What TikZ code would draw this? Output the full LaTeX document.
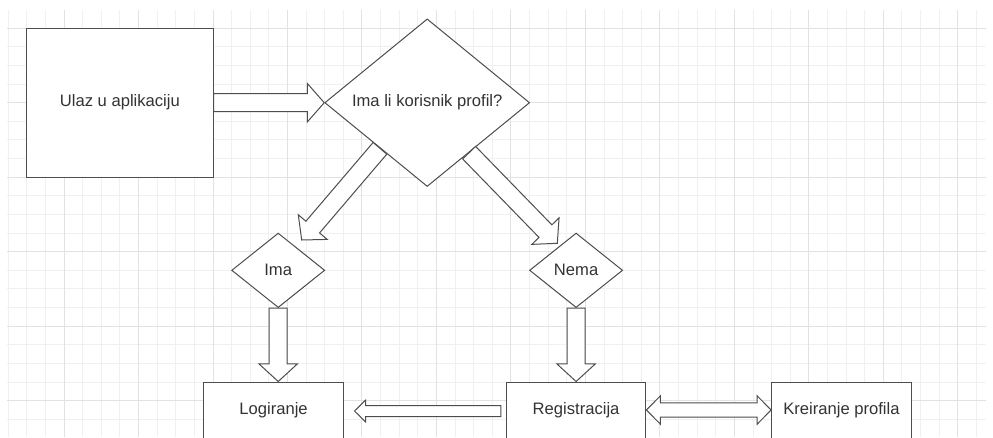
\documentclass[tikz,border=0pt]{standalone}
\usepackage{fontspec}
\setmainfont{Liberation Sans}
\usetikzlibrary{calc,shapes.geometric}
\definecolor{txt}{HTML}{333333}
\definecolor{edge}{HTML}{4D4D4D}
\definecolor{gminor}{HTML}{F0F0F0}
\definecolor{gmajor}{HTML}{E2E2E2}
% block arrow: #1 start, #2 tip, #3 half shaft, #4 half head, #5 head length
\newcommand\blockarrow[5]{%
  \coordinate (ba) at ($(#2)!#5pt!(#1)$);
  \draw[blk] ($(#1)!#3pt!90:(#2)$) -- ($(ba)!#3pt!90:(#2)$) -- ($(ba)!#4pt!90:(#2)$) -- (#2)
    -- ($(ba)!#4pt!-90:(#2)$) -- ($(ba)!#3pt!-90:(#2)$) -- ($(#1)!#3pt!-90:(#2)$) -- cycle;}
% double block arrow
\newcommand\dblarrow[5]{%
  \coordinate (da) at ($(#1)!#5pt!(#2)$);
  \coordinate (db) at ($(#2)!#5pt!(#1)$);
  \draw[blk] (#1) -- ($(da)!#4pt!90:(#2)$) -- ($(da)!#3pt!90:(#2)$) -- ($(db)!#3pt!90:(#2)$)
    -- ($(db)!#4pt!90:(#2)$) -- (#2) -- ($(db)!#4pt!-90:(#2)$) -- ($(db)!#3pt!-90:(#2)$)
    -- ($(da)!#3pt!-90:(#2)$) -- ($(da)!#4pt!-90:(#2)$) -- cycle;}
\tikzset{
  box/.style={draw=edge, fill=white, line width=1pt, rectangle, inner sep=0pt,
    font=\fontsize{16.6}{20}\selectfont, text=txt},
  diam/.style={draw=edge, fill=white, line width=1pt, diamond, inner sep=0pt, aspect=1,
    font=\fontsize{16.6}{20}\selectfont, text=txt},
  blk/.style={draw=edge, fill=white, line width=1pt, line join=miter},
  gmin/.style={draw=gminor, line width=1pt},
  gmaj/.style={draw=gmajor, line width=1pt}
}
\begin{document}
\begin{tikzpicture}[x=1pt,y=-1pt]
\useasboundingbox (0,0) rectangle (993,437);
\fill[white] (0,0) rectangle (993,437);
% grid
\foreach \k in {0,...,52} {\pgfmathsetmacro\gx{8.2+18.62*\k}\draw[gmin] (\gx,10) -- (\gx,437);}
\foreach \m in {-4,...,17} {\pgfmathsetmacro\gy{102.7+18.62*\m}\draw[gmin] (7.3,\gy) -- (986,\gy);}
\foreach \k in {3,7,...,51} {\pgfmathsetmacro\gx{8.2+18.62*\k}\draw[gmaj] (\gx,10) -- (\gx,437);}
\foreach \m in {-4,0,4,8,12,16} {\pgfmathsetmacro\gy{102.7+18.62*\m}\draw[gmaj] (7.3,\gy) -- (986,\gy);}
% nodes
\node[box, minimum width=186.2pt, minimum height=149pt] (ulaz) at (119.9,102.7) {Ulaz u aplikaciju};
\node[diam, minimum width=204.9pt, minimum height=167.6pt] (q) at (427.2,102.7) {\makebox[0pt]{Ima li korisnik profil?}};
\node[diam, minimum width=93.1pt, minimum height=74.5pt] (ima) at (278.2,270.3) {\makebox[0pt]{Ima}};
\node[diam, minimum width=93.1pt, minimum height=74.5pt] (nema) at (576.1,270.3) {\makebox[0pt]{Nema}};
\node[box, minimum width=139.7pt, minimum height=56pt] (logi) at (273.55,410) {Logiranje};
\node[box, minimum width=139.6pt, minimum height=56pt] (reg) at (576.1,410) {Registracija};
\node[box, minimum width=139.7pt, minimum height=56pt] (kre) at (841.45,410) {Kreiranje profila};
% connector end points
\coordinate (ld) at (301.7,240);
\coordinate (rd) at (557.3,243.3);
\coordinate (ilt) at (ima.south |- logi.north);
\coordinate (nrt) at (nema.south |- reg.north);
\coordinate (rls) at ([xshift=-5pt,yshift=-1pt]reg.west);
\coordinate (rlt) at ([xshift=10.6pt,yshift=-1pt]logi.east);
% connectors
\blockarrow{ulaz.east}{q.west}{9}{19.3}{17}
\blockarrow{q.224}{ld}{9}{19}{17}
\blockarrow{q.310}{rd}{9}{19}{17}
\blockarrow{ima.south}{ilt}{9}{19.2}{17.6}
\blockarrow{nema.south}{nrt}{9}{19.2}{17.6}
\blockarrow{rls}{rlt}{5.5}{10.8}{11}
\dblarrow{reg.east}{kre.west}{7.2}{14.2}{14}
\end{tikzpicture}
\end{document}
